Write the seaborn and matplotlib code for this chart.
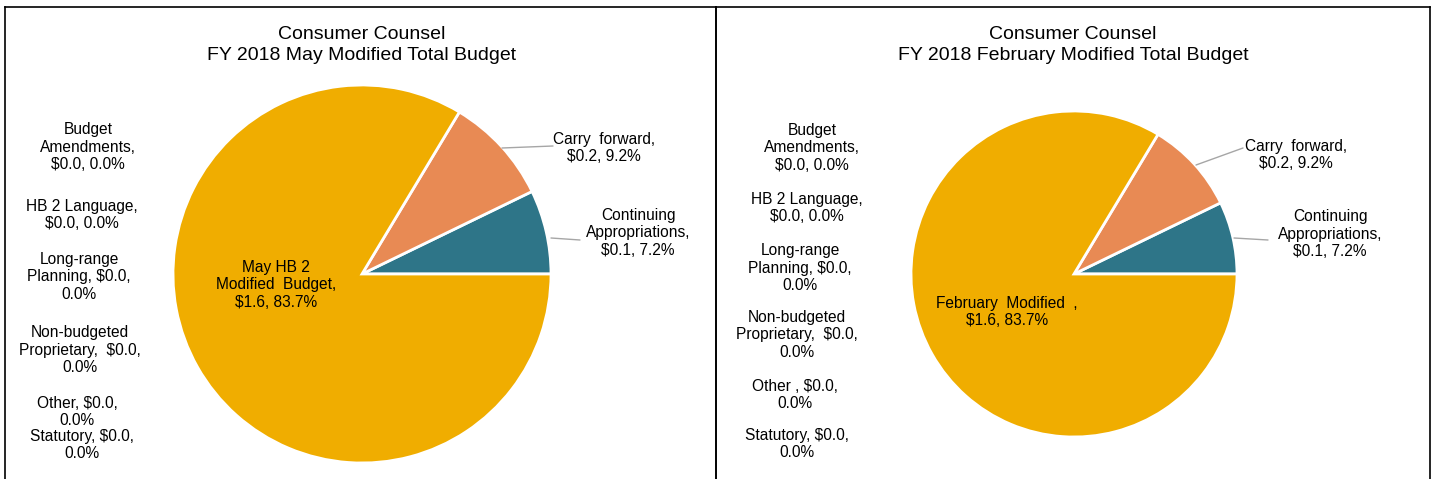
import matplotlib
matplotlib.use("Agg")
import matplotlib.pyplot as plt
import seaborn as sns

sns.set_theme(style="white")
plt.rcParams['font.family'] = ['Liberation Sans', 'DejaVu Sans']

# ---- data ----
slice_names = ["Continuing Appropriations", "Carry forward", "Modified Budget"]
slice_pcts = [7.2, 9.2, 83.7]
slice_amounts = [0.1, 0.2, 1.6]
slice_colors = ["#2E7588", "#E88A54", "#F0AD00"]

may_title = "Consumer Counsel\nFY 2018 May Modified Total Budget"
feb_title = "Consumer Counsel\nFY 2018 February Modified Total Budget"

may_slice_labels = ["Continuing\nAppropriations,\n$0.1, 7.2%",
                    "Carry  forward,\n$0.2, 9.2%",
                    "May HB 2\nModified  Budget,\n$1.6, 83.7%"]
feb_slice_labels = ["Continuing\nAppropriations,\n$0.1, 7.2%",
                    "Carry  forward,\n$0.2, 9.2%",
                    "February  Modified  ,\n$1.6, 83.7%"]

may_zero_labels = ["Budget\nAmendments,\n$0.0, 0.0%",
                   "HB 2 Language,\n$0.0, 0.0%",
                   "Long-range\nPlanning, $0.0,\n0.0%",
                   "Non-budgeted\nProprietary,  $0.0,\n0.0%",
                   "Other, $0.0,\n0.0%",
                   "Statutory, $0.0,\n0.0%"]
feb_zero_labels = ["Budget\nAmendments,\n$0.0, 0.0%",
                   "HB 2 Language,\n$0.0, 0.0%",
                   "Long-range\nPlanning, $0.0,\n0.0%",
                   "Non-budgeted\nProprietary,  $0.0,\n0.0%",
                   "Other , $0.0,\n0.0%",
                   "Statutory, $0.0,\n0.0%"]

W, H = 1433, 479
fig = plt.figure(figsize=(W / 100, H / 100), dpi=100)
fig.patch.set_facecolor("white")

LABEL_FS = 11.2
TITLE_FS = 14


def px(x, y):
    return x / W, 1 - y / H


def panel(x0, x1, title, title_cx, pie_c, r, slice_labels, slice_label_pos,
          leaders, zero_labels, zero_pos):
    # frame
    fa = fig.add_axes([x0 / W, -0.1, (x1 - x0) / W, 1 - 7 / H + 0.1])
    fa.set_xticks([]); fa.set_yticks([])
    fa.patch.set_alpha(0)
    for s in fa.spines.values():
        s.set_visible(True); s.set_color("black"); s.set_linewidth(1.2)
    # title
    tx, ty = px(title_cx, 45)
    fig.text(tx, ty, title, ha="center", va="center", fontsize=TITLE_FS,
             color="black", linespacing=1.25)
    # pie
    cx, cy = pie_c
    ax = fig.add_axes([(cx - r) / W, (H - cy - r) / H, 2 * r / W, 2 * r / H])
    ax.pie(slice_pcts, colors=slice_colors, startangle=0, counterclock=True,
           radius=1, wedgeprops=dict(edgecolor="white", linewidth=2))
    ax.set_xlim(-1, 1); ax.set_ylim(-1, 1)
    ax.set_aspect("auto")
    ax.axis("off")
    for lab, (lx, ly) in zip(slice_labels, slice_label_pos):
        fx, fy = px(lx, ly)
        fig.text(fx, fy, lab, ha="center", va="center", fontsize=LABEL_FS,
                 color="black", linespacing=1.2)
    for (ax0, ay0), (ax1, ay1) in leaders:
        p0 = px(ax0, ay0); p1 = px(ax1, ay1)
        fig.add_artist(plt.Line2D([p0[0], p1[0]], [p0[1], p1[1]],
                                  color="#A6A6A6", linewidth=1))
    for lab, (lx, ly) in zip(zero_labels, zero_pos):
        fx, fy = px(lx, ly)
        fig.text(fx, fy, lab, ha="center", va="center", fontsize=LABEL_FS,
                 color="black", linespacing=1.2)


panel(5, 716, may_title, 362, (362, 274), 189, may_slice_labels,
      [(638, 233), (604, 148), (276, 285)],
      [((551, 238), (580, 240)), ((502, 148), (553, 146))],
      may_zero_labels,
      [(88, 147), (82, 215), (79, 277), (80, 350), (77, 412), (82, 445)])

panel(716, 1430, feb_title, 1073, (1074, 274), 163, feb_slice_labels,
      [(1330, 234), (1296, 155), (1007, 312)],
      [((1234, 238), (1268, 240)), ((1196, 165), (1243, 148))],
      feb_zero_labels,
      [(812, 148), (807, 208), (800, 268), (797, 335), (795, 395), (797, 444)])

fig.savefig("out.png", dpi=100, facecolor="white")
